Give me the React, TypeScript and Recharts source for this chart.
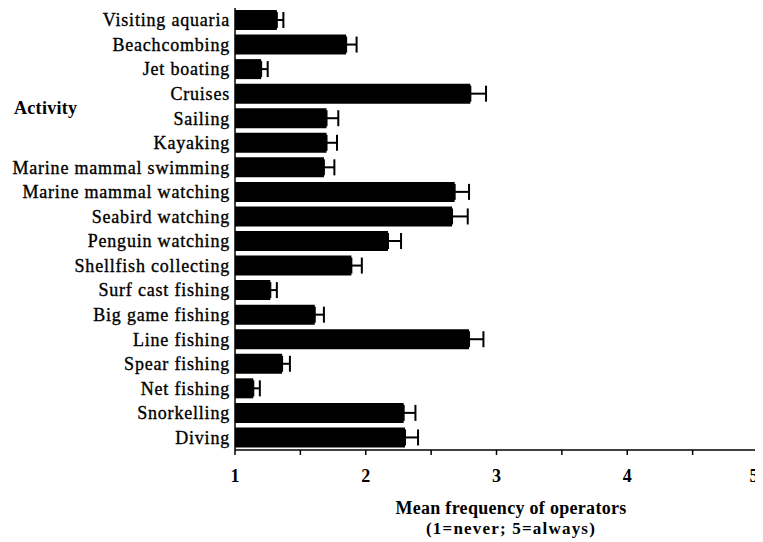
import { BarChart, Bar, XAxis, YAxis, ErrorBar, Label } from 'recharts';

const activities = [
  'Visiting aquaria',
  'Beachcombing',
  'Jet boating',
  'Cruises',
  'Sailing',
  'Kayaking',
  'Marine mammal swimming',
  'Marine mammal watching',
  'Seabird watching',
  'Penguin watching',
  'Shellfish collecting',
  'Surf cast fishing',
  'Big game fishing',
  'Line fishing',
  'Spear fishing',
  'Net fishing',
  'Snorkelling',
  'Diving',
];

const meanFrequency = [
  1.32, 1.85, 1.2, 2.8, 1.7, 1.7, 1.68, 2.68, 2.66, 2.17, 1.89, 1.27, 1.61, 2.79, 1.36, 1.14, 2.29, 2.3,
];

const standardError = [
  0.05, 0.08, 0.05, 0.12, 0.09, 0.08, 0.08, 0.11, 0.12, 0.1, 0.08, 0.05, 0.07, 0.11, 0.06, 0.05, 0.09, 0.1,
];

const xTicks = [1, 1.5, 2, 2.5, 3, 3.5, 4, 4.5, 5];

const data = activities.map((name, i) => ({
  name,
  mean: meanFrequency[i],
  err: [0, standardError[i]],
}));

const FONT = 'Liberation Serif, Times New Roman, serif';

const CategoryTick = ({ x, y, payload }: any) => (
  <text
    x={x}
    y={y}
    textAnchor="end"
    dominantBaseline="central"
    fontFamily={FONT}
    fontSize={18}
    fill="#000"
    stroke="#000"
    strokeWidth={0.35}
    style={{ letterSpacing: '0.8px' }}
  >
    {payload.value}
  </text>
);

// the last label sits at the right edge, so pull it in a little to keep it on the page
const ValueTick = ({ x, y, payload }: any) =>
  Number.isInteger(payload.value) ? (
    <text
      x={payload.value === 5 ? x - 4 : x}
      y={y}
      dy="0.71em"
      textAnchor="middle"
      fontFamily={FONT}
      fontSize={18}
      fontWeight="bold"
      fill="#000"
    >
      {payload.value}
    </text>
  ) : (
    <g />
  );

export default function App() {
  return (
    <div style={{ width: 755, height: 534 }}>
      <BarChart
        width={755}
        height={534}
        data={data}
        layout="vertical"
        margin={{ top: 0, right: 5, bottom: 0, left: 0 }}
        barSize={20}
      >
        <XAxis
          type="number"
          domain={[1, 5]}
          ticks={xTicks}
          interval={0}
          height={92}
          tickSize={5}
          tickMargin={14}
          tick={<ValueTick />}
          axisLine={{ stroke: '#000', strokeWidth: 1.5 }}
          tickLine={{ stroke: '#000', strokeWidth: 1.5 }}
        >
          <Label
            content={() => (
              <g fontFamily={FONT} fontWeight="bold" fill="#000" textAnchor="middle">
                <text x={503} y={500} dominantBaseline="central" fontSize={18} style={{ letterSpacing: '0.3px' }}>
                  Mean frequency of operators
                </text>
                <text x={503} y={520} dominantBaseline="central" fontSize={17} style={{ letterSpacing: '1.2px' }}>
                  (1=never; 5=always)
                </text>
              </g>
            )}
          />
        </XAxis>
        <YAxis
          type="category"
          dataKey="name"
          width={227}
          interval={0}
          tickSize={0}
          tickMargin={5}
          tickLine={false}
          tick={<CategoryTick />}
          axisLine={{ stroke: '#000', strokeWidth: 1.5 }}
        >
          <Label
            content={() => (
              <text
                x={6}
                y={100}
                dominantBaseline="central"
                fontFamily={FONT}
                fontSize={18}
                fontWeight="bold"
                fill="#000"
                style={{ letterSpacing: '0.3px' }}
              >
                Activity
              </text>
            )}
          />
        </YAxis>
        <Bar dataKey="mean" fill="#000" isAnimationActive={false}>
          <ErrorBar dataKey="err" direction="x" width={8} stroke="#000" strokeWidth={2} />
        </Bar>
      </BarChart>
    </div>
  );
}
